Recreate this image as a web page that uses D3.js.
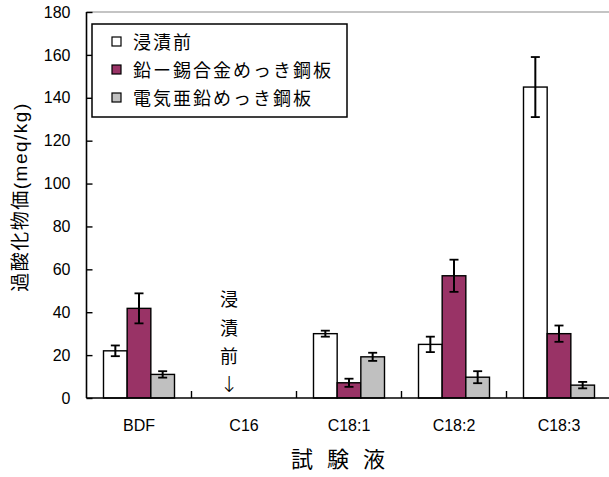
<!DOCTYPE html>
<html>
<head>
<meta charset="utf-8">
<script src="https://cdn.jsdelivr.net/npm/d3@7"></script>
<style>
    body { margin: 0; background: #fff; }
    text { font-family: "Liberation Sans", Arial, "Noto Sans CJK JP", sans-serif; fill: #000; }
</style>
</head>
<body>
<div id="chart"></div>
<script>
// data
const categories = ["BDF", "C16", "C18:1", "C18:2", "C18:3"];
const seriesNames = ["浸漬前", "鉛ー錫合金めっき鋼板", "電気亜鉛めっき鋼板"];
const beforeValues = [22, null, 30, 25, 145];
const beforeErrors = [2.5, null, 1.4, 3.6, 14];
const pbSnValues = [41.8, null, 7.1, 57, 30];
const pbSnErrors = [7, null, 1.9, 7.5, 3.8];
const znValues = [11, null, 19.2, 9.7, 6];
const znErrors = [1.5, null, 1.9, 2.8, 1.5];
const yTicks = [0, 20, 40, 60, 80, 100, 120, 140, 160, 180];

const seriesColors = ["#ffffff", "#993366", "#c0c0c0"];

const chartWidth = 609, chartHeight = 477;
const plotLeft = 86.5, plotRight = 611.5, plotTop = 12, plotBottom = 398;

const svg = d3.select("#chart")
    .append("svg")
    .attr("width", chartWidth)
    .attr("height", chartHeight);

const x = d3.scaleBand()
    .domain(categories)
    .range([plotLeft, plotRight]);

const x1 = d3.scaleBand()
    .domain(seriesNames)
    .range([17, 88]);

const y = d3.scaleLinear()
    .domain([0, 180])
    .range([plotBottom, plotTop]);

// top border of plot area
svg.append("line")
    .attr("x1", plotLeft).attr("x2", chartWidth)
    .attr("y1", y(180)).attr("y2", y(180))
    .attr("stroke", "#8a8a8a")
    .attr("stroke-width", 1.2);

// bars
const seriesData = [
    { name: seriesNames[0], values: beforeValues, errors: beforeErrors },
    { name: seriesNames[1], values: pbSnValues, errors: pbSnErrors },
    { name: seriesNames[2], values: znValues, errors: znErrors }
];

seriesData.forEach((s, si) => {
    const rows = categories.map((c, i) => ({ cat: c, v: s.values[i], e: s.errors[i] }))
        .filter(d => d.v !== null);

    const g = svg.append("g");

    g.selectAll(".bar")
        .data(rows)
        .enter()
        .append("rect")
        .attr("class", "bar")
        .attr("x", d => x(d.cat) + x1(s.name))
        .attr("y", d => y(d.v))
        .attr("width", x1.bandwidth())
        .attr("height", d => y(0) - y(d.v))
        .attr("fill", seriesColors[si])
        .attr("stroke", "#000")
        .attr("stroke-width", 1.4);

    // error bars
    const cx = d => x(d.cat) + x1(s.name) + x1.bandwidth() / 2;
    g.selectAll(".err")
        .data(rows)
        .enter()
        .append("line")
        .attr("class", "err")
        .attr("x1", cx).attr("x2", cx)
        .attr("y1", d => y(d.v + d.e))
        .attr("y2", d => y(d.v - d.e))
        .attr("stroke", "#000")
        .attr("stroke-width", 2);

    [1, -1].forEach(sign => {
        g.selectAll(sign > 0 ? ".cap-hi" : ".cap-lo")
            .data(rows)
            .enter()
            .append("line")
            .attr("class", sign > 0 ? "cap-hi" : "cap-lo")
            .attr("x1", d => cx(d) - 4.5)
            .attr("x2", d => cx(d) + 4.5)
            .attr("y1", d => y(d.v + sign * d.e))
            .attr("y2", d => y(d.v + sign * d.e))
            .attr("stroke", "#000")
            .attr("stroke-width", 1.8);
    });
});

// y axis
const yAxis = svg.append("g")
    .attr("transform", `translate(${plotLeft},0)`)
    .call(d3.axisRight(y).tickValues(yTicks).tickSize(6).tickFormat(d3.format("d")));
yAxis.select(".domain").attr("stroke", "#000").attr("stroke-width", 1.6)
    .attr("d", `M0,${plotTop}V${plotBottom}`);
yAxis.selectAll(".tick line").attr("stroke", "#000").attr("stroke-width", 1.4);
yAxis.selectAll(".tick text")
    .attr("x", -16)
    .attr("text-anchor", "end")
    .style("font-size", "16px");

// x axis
const xAxis = svg.append("g")
    .attr("transform", `translate(0,${plotBottom})`)
    .call(d3.axisBottom(x).tickSize(0).tickPadding(22));
xAxis.select(".domain").attr("stroke", "#000").attr("stroke-width", 1.6)
    .attr("d", `M${plotLeft},0H${chartWidth}`);
xAxis.selectAll(".tick text")
    .style("font-size", "16px");

// category separator ticks (inward)
svg.append("g")
    .selectAll("line")
    .data(categories.slice(1))
    .enter()
    .append("line")
    .attr("x1", d => x(d)).attr("x2", d => x(d))
    .attr("y1", plotBottom).attr("y2", plotBottom - 7)
    .attr("stroke", "#000")
    .attr("stroke-width", 1.4);

// axis titles
svg.append("text")
    .attr("transform", `translate(27,197) rotate(-90)`)
    .attr("text-anchor", "middle")
    .style("font-size", "19px")
    .style("letter-spacing", "1.5px")
    .text("過酸化物価(meq/kg)");

svg.append("text")
    .attr("x", 340)
    .attr("y", 467)
    .attr("text-anchor", "middle")
    .style("font-size", "22px")
    .style("letter-spacing", "4px")
    .attr("xml:space", "preserve")
    .text("試 験 液");

// annotation under C16
const noteChars = ["浸", "漬", "前"];
const noteX = x("C16") + x.bandwidth() / 2 - 15;
svg.append("g")
    .selectAll("text")
    .data(noteChars)
    .enter()
    .append("text")
    .attr("x", noteX)
    .attr("y", (d, i) => 306 + i * 28.7)
    .attr("text-anchor", "middle")
    .style("font-family", "'Noto Sans CJK JP', sans-serif")
    .style("font-size", "18px")
    .text(d => d);

svg.append("text")
    .attr("x", noteX)
    .attr("y", 392)
    .attr("text-anchor", "middle")
    .style("font-family", "'DejaVu Sans', sans-serif")
    .style("font-size", "22px")
    .style("font-weight", "300")
    .text("↓");

// legend
const legend = svg.append("g");
legend.append("rect")
    .attr("x", 92).attr("y", 24)
    .attr("width", 255).attr("height", 93)
    .attr("fill", "#fff")
    .attr("stroke", "#000")
    .attr("stroke-width", 1.5);

seriesNames.forEach((name, i) => {
    const ry = 42 + i * 28;
    legend.append("rect")
        .attr("x", 112).attr("y", ry - 5)
        .attr("width", 9).attr("height", 9)
        .attr("fill", seriesColors[i])
        .attr("stroke", "#000")
        .attr("stroke-width", 1.2);
    legend.append("text")
        .attr("x", 133)
        .attr("y", ry + 7)
        .style("font-size", "18px")
        .style("letter-spacing", "2px")
        .text(name);
});
</script>
</body>
</html>
